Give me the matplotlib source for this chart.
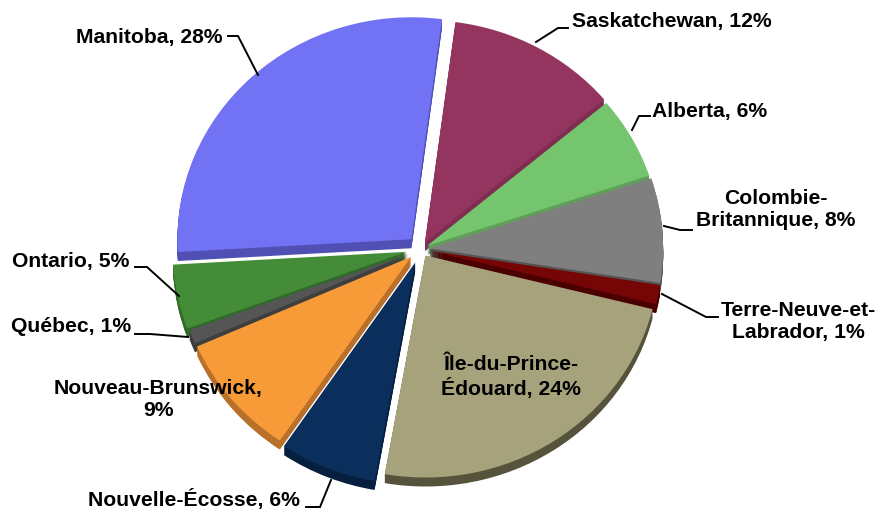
import matplotlib
matplotlib.use("Agg")
import matplotlib.pyplot as plt
import numpy as np

provinces = ["Saskatchewan", "Alberta", "Colombie-Britannique", "Terre-Neuve-et-Labrador",
             "Île-du-Prince-Édouard", "Nouvelle-Écosse", "Nouveau-Brunswick", "Québec", "Ontario", "Manitoba"]
values = [11.8, 6.0, 7.6, 1.4, 23.9, 6.7, 8.9, 1.0, 4.7, 28.0]
colors = ["#943560", "#75C46E", "#7F7F7F", "#760505", "#A6A27C",
          "#0B2F5C", "#F79A38", "#555555", "#458C38", "#7272F4"]
side_colors = ["#7F2D52", "#5FA059", "#555555", "#4A0000", "#56533C",
               "#071F3E", "#B8702A", "#3E3E3E", "#2F6A28", "#5050B4"]
explode = [0.035, 0.03, 0.035, 0.035, 0.035, 0.065, 0.055, 0.055, 0.062, 0.06]

label_texts = ["Manitoba, 28%", "Saskatchewan, 12%", "Alberta, 6%", "Colombie-\nBritannique, 8%",
               "Terre-Neuve-et-\nLabrador, 1%", "Île-du-Prince-\nÉdouard, 24%", "Nouvelle-Écosse, 6%",
               "Nouveau-Brunswick,\n9%", "Québec, 1%", "Ontario, 5%"]
label_x = [149, 672, 710, 776, 798, 511, 194, 158, 71, 71]
label_y = [37, 22, 111, 210, 322, 377, 500, 400, 327, 262]
leader_x = [[228, 238, 258], [568, 558, 536], [650, 639, 632], [664, 680, 692],
            [662, 706, 718], [135, 147, 179], [135, 150, 188], [306, 320, 331]]
leader_y = [[37, 37, 76], [29, 29, 43], [117, 117, 131], [227, 231, 231],
            [295, 318, 318], [268, 268, 297], [335, 335, 338], [508, 508, 481]]

W, H = 885, 510
cx, cy, rx, ry = 421, 250, 234, 222
depth = 9

fig = plt.figure(figsize=(W / 100, H / 100), dpi=100)
ax = fig.add_axes([0, 0, 1, 1])

mids = []
cum = 0
total = sum(values)
for v in values:
    mids.append(82.5 - (cum + v / 2) / total * 360)
    cum += v
rank = np.argsort(np.argsort(-np.sin(np.radians(mids))))

for d in range(depth, -1, -1):
    wedges, _ = ax.pie(values, explode=explode, colors=colors if d == 0 else side_colors,
                       startangle=82.5, counterclock=False, radius=1,
                       center=(0, -d / ry), wedgeprops=dict(linewidth=0))
    for i, w in enumerate(wedges):
        w.set_zorder(int(rank[i]) * 100 + (depth - d))

ax.set_aspect("auto")
ax.set_xlim(-cx / rx, (W - cx) / rx)
ax.set_ylim((cy - H) / ry, cy / ry)

over = fig.add_axes([0, 0, 1, 1], facecolor="none")
over.set_xlim(0, W)
over.set_ylim(H, 0)
over.axis("off")
for xs, ys in zip(leader_x, leader_y):
    over.plot(xs, ys, color="black", lw=1.4, solid_joinstyle="miter")
for t, x, y in zip(label_texts, label_x, label_y):
    over.text(x, y, t, ha="center", va="center", fontsize=15.2, fontweight="bold",
              family="Liberation Sans", color="black", linespacing=1.2)

fig.savefig("out.png", dpi=100)
